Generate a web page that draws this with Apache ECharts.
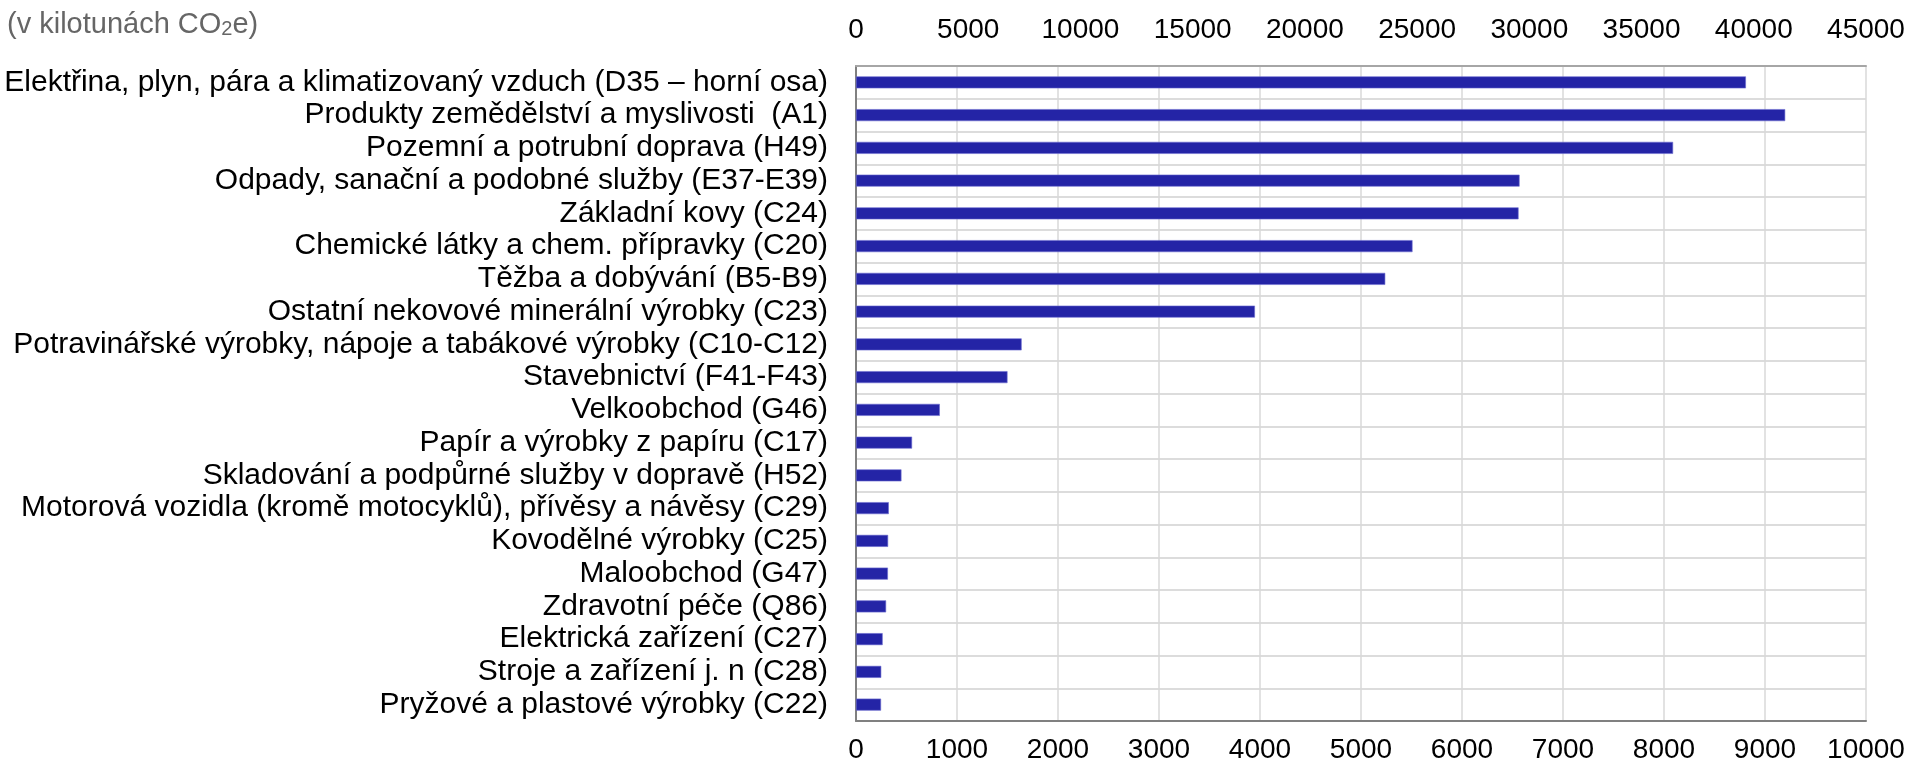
<!DOCTYPE html>
<html>
<head>
<meta charset="utf-8">
<script src="https://cdn.jsdelivr.net/npm/echarts@6/dist/echarts.min.js"></script>
<style>
html,body{margin:0;padding:0;background:#fff;}
#chart{width:1912px;height:771px;}
</style>
</head>
<body>
<div id="chart"></div>
<script>
const categories = [
  "Elektřina, plyn, pára a klimatizovaný vzduch (D35 – horní osa)",
  "Produkty zemědělství a myslivosti  (A1)",
  "Pozemní a potrubní doprava (H49)",
  "Odpady, sanační a podobné služby (E37-E39)",
  "Základní kovy (C24)",
  "Chemické látky a chem. přípravky (C20)",
  "Těžba a dobývání (B5-B9)",
  "Ostatní nekovové minerální výrobky (C23)",
  "Potravinářské výrobky, nápoje a tabákové výrobky (C10-C12)",
  "Stavebnictví (F41-F43)",
  "Velkoobchod (G46)",
  "Papír a výrobky z papíru (C17)",
  "Skladování a podpůrné služby v dopravě (H52)",
  "Motorová vozidla (kromě motocyklů), přívěsy a návěsy (C29)",
  "Kovodělné výrobky (C25)",
  "Maloobchod (G47)",
  "Zdravotní péče (Q86)",
  "Elektrická zařízení (C27)",
  "Stroje a zařízení j. n (C28)",
  "Pryžové a plastové výrobky (C22)"
];
// values read on the bottom axis (0–10000); null where the bar belongs to the top axis
const bottomAxisValues = [null, 9200, 8090, 6570, 6560, 5510, 5240, 3950, 1640, 1500, 830, 555, 450, 325, 318, 316, 298, 264, 250, 248];
// values read on the top axis (0–45000)
const topAxisValues = [39650, null, null, null, null, null, null, null, null, null, null, null, null, null, null, null, null, null, null, null];
const bottomTicks = {min: 0, max: 10000, interval: 1000};
const topTicks = {min: 0, max: 45000, interval: 5000};

const FONT = "'Liberation Sans', Arial, sans-serif";
const BAR = '#2424a6';

const chart = echarts.init(document.getElementById('chart'), null, {renderer: 'canvas'});
chart.setOption({
  animation: false,
  backgroundColor: '#ffffff',
  title: {
    text: '{a|(v kilotunách CO}{s|2}{a|e)}',
    left: 2,
    top: -2,
    textStyle: {
      fontWeight: 'normal',
      rich: {
        a: {fontFamily: FONT, fontSize: 29, fontWeight: 'normal', color: '#666666', lineHeight: 36, verticalAlign: 'bottom'},
        s: {fontFamily: FONT, fontSize: 20, fontWeight: 'normal', color: '#666666', lineHeight: 25, verticalAlign: 'bottom'}
      }
    }
  },
  grid: {left: 856, right: 46, top: 66, bottom: 50, containLabel: false},
  xAxis: [
    {
      type: 'value', position: 'bottom',
      min: bottomTicks.min, max: bottomTicks.max, interval: bottomTicks.interval,
      axisLine: {show: true, lineStyle: {color: '#808080', width: 2}},
      axisTick: {show: false},
      axisLabel: {fontFamily: FONT, fontSize: 28, color: '#000', margin: 15, formatter: v => String(v)},
      splitLine: {show: true, lineStyle: {color: '#d9d9d9', width: 1.5}}
    },
    {
      type: 'value', position: 'top',
      min: topTicks.min, max: topTicks.max, interval: topTicks.interval,
      axisLine: {show: true, lineStyle: {color: '#a6a6a6', width: 2}},
      axisTick: {show: false},
      axisLabel: {fontFamily: FONT, fontSize: 28, color: '#000', margin: 22, formatter: v => String(v)},
      splitLine: {show: false}
    }
  ],
  yAxis: {
    type: 'category', inverse: true, data: categories,
    axisLine: {show: true, lineStyle: {color: '#808080', width: 2}},
    axisTick: {show: false},
    axisLabel: {fontFamily: FONT, fontSize: 30, color: '#000', margin: 28, interval: 0},
    splitLine: {show: true, lineStyle: {color: '#dcdcdc', width: 2}}
  },
  series: [
    {
      type: 'bar', xAxisIndex: 0, yAxisIndex: 0, data: bottomAxisValues,
      barWidth: 12, barGap: '-100%',
      itemStyle: {color: BAR, borderColor: '#6b6bd0', borderWidth: 0.6}
    },
    {
      type: 'bar', xAxisIndex: 1, yAxisIndex: 0, data: topAxisValues,
      barWidth: 12, barGap: '-100%',
      itemStyle: {color: BAR, borderColor: '#6b6bd0', borderWidth: 0.6}
    }
  ]
});
</script>
</body>
</html>
